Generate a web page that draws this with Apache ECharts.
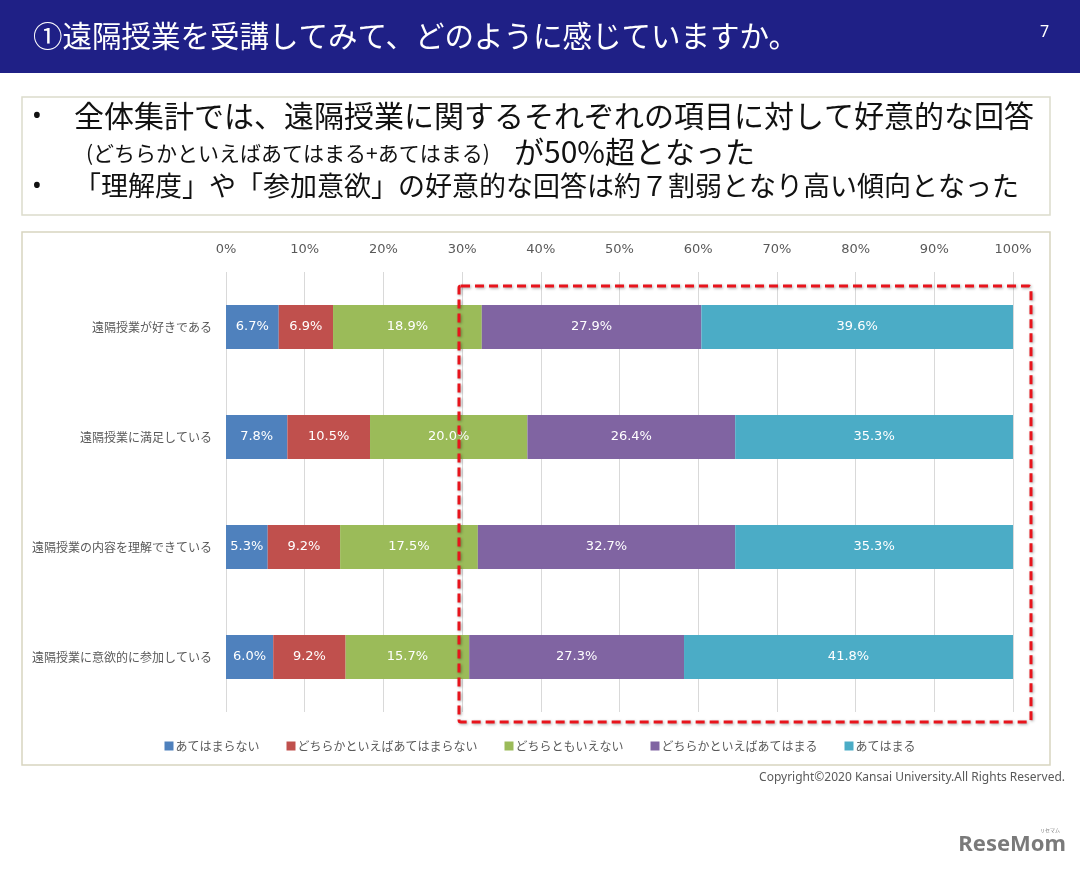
<!DOCTYPE html>
<html>
<head>
<meta charset="utf-8">
<script src="https://cdn.jsdelivr.net/npm/echarts/dist/echarts.min.js"></script>
<style>
  html, body { margin: 0; padding: 0; background: #fff; }
  #main { width: 1080px; height: 872px; }
</style>
</head>
<body>
<div id="main"></div>
<script>
// 項目（上から順）
var categories = ['遠隔授業が好きである', '遠隔授業に満足している', '遠隔授業の内容を理解できている', '遠隔授業に意欲的に参加している'];
// 回答ごとの割合(%)
var seriesNames = ['あてはまらない', 'どちらかといえばあてはまらない', 'どちらともいえない', 'どちらかといえばあてはまる', 'あてはまる'];
var notApply = [6.7, 7.8, 5.3, 6.0];
var ratherNotApply = [6.9, 10.5, 9.2, 9.2];
var neither = [18.9, 20.0, 17.5, 15.7];
var ratherApply = [27.9, 26.4, 32.7, 27.3];
var apply = [39.6, 35.3, 35.3, 41.8];
var tickLabels = ['0%', '10%', '20%', '30%', '40%', '50%', '60%', '70%', '80%', '90%', '100%'];

var colors = ['#4f81bd', '#c0504d', '#9bbb59', '#8064a2', '#4bacc6'];
var seriesData = [notApply, ratherNotApply, neither, ratherApply, apply];
var jp = '"Noto Sans CJK JP", "Noto Sans", sans-serif';

var chart = echarts.init(document.getElementById('main'));

var option = {
  color: colors,
  textStyle: { fontFamily: jp },
  //背景・見出し・注記
  graphic: [
    { type: 'rect', shape: { x: 0, y: 0, width: 1080, height: 73 }, style: { fill: '#1f2086' }, z: -10 },
    { type: 'text', left: 33, top: 21, style: { text: '①遠隔授業を受講してみて、どのように感じていますか。', fill: '#fff', font: '29.5px ' + jp } },
    { type: 'text', left: 1040, top: 24, style: { text: '7', fill: '#fff', font: '16px "Noto Sans", sans-serif' } },
    { type: 'rect', shape: { x: 22, y: 97, width: 1028, height: 118 }, style: { fill: '#fff', stroke: '#dcdccc', lineWidth: 1.5 }, z: -10 },
    { type: 'text', left: 32, top: 104, style: { text: '•', fill: '#111', font: '26px "Noto Sans", sans-serif' } },
    { type: 'text', left: 74, top: 101, style: { text: '全体集計では、遠隔授業に関するそれぞれの項目に対して好意的な回答', fill: '#111', font: '30px ' + jp } },
    { type: 'text', left: 86, top: 143, style: { text: '(どちらかといえばあてはまる+あてはまる)', fill: '#111', font: '21px ' + jp } },
    { type: 'text', left: 514, top: 137, style: { text: 'が50%超となった', fill: '#111', font: '30px ' + jp } },
    { type: 'text', left: 32, top: 174, style: { text: '•', fill: '#111', font: '26px "Noto Sans", sans-serif' } },
    { type: 'text', left: 74, top: 172, style: { text: '「理解度」や「参加意欲」の好意的な回答は約７割弱となり高い傾向となった', fill: '#111', font: '27px ' + jp } },
    { type: 'rect', shape: { x: 22, y: 232, width: 1028, height: 533 }, style: { fill: '#fff', stroke: '#d8d5c0', lineWidth: 1.5 }, z: -10 },
    // 強調の破線枠
    { type: 'rect', shape: { x: 459, y: 286, width: 572, height: 436, r: 2 },
      style: { fill: 'none', stroke: '#e8141c', lineWidth: 3, lineDash: [9, 5], shadowBlur: 3, shadowColor: 'rgba(0,0,0,0.35)', shadowOffsetX: 1, shadowOffsetY: 1 }, z: 100 },
    { type: 'text', right: 15, top: 772, style: { text: 'Copyright©2020 Kansai University.All Rights Reserved.', fill: '#595959', font: '12px "Noto Sans", sans-serif' } },
    { type: 'text', right: 14, top: 834, style: { text: 'ReseMom', fill: '#7a7a7a', font: 'bold 22px "Noto Sans", sans-serif' } },
    { type: 'text', right: 20, top: 828, style: { text: 'リセマム', fill: '#7a7a7a', font: '5px ' + jp } }
  ],
  legend: {
    data: seriesNames,
    left: 'center',
    top: 735,
    icon: 'rect',
    itemWidth: 9,
    itemHeight: 9,
    itemGap: 27,
    textStyle: { fontSize: 12, color: '#595959', fontFamily: jp, padding: [0, 0, 0, -3] }
  },
  grid: { left: 226, right: 67, top: 272, bottom: 160 },
  xAxis: {
    type: 'value',
    position: 'top',
    min: 0,
    max: 100,
    interval: 10,
    axisLine: { show: false },
    axisTick: { show: false },
    axisLabel: {
      margin: 16,
      fontSize: 13,
      color: '#595959',
      fontFamily: 'Verdana, "DejaVu Sans", sans-serif',
      formatter: function (v) { return tickLabels[Math.round(v / 10)]; }
    },
    splitLine: { lineStyle: { color: '#d9d9d9', width: 1 } }
  },
  yAxis: {
    type: 'category',
    data: categories,
    inverse: true,
    axisLine: { show: false },
    axisTick: { show: false },
    axisLabel: { fontSize: 12, color: '#595959', margin: 14 }
  },
  series: seriesNames.map(function (name, i) {
    return {
      name: name,
      type: 'bar',
      stack: 'total',
      barWidth: '40%',
      data: seriesData[i],
      label: {
        show: true,
        position: 'inside',
        color: '#fff',
        fontSize: 13,
        fontFamily: 'Verdana, "DejaVu Sans", sans-serif',
        formatter: function (p) { return p.value.toFixed(1) + '%'; }
      }
    };
  })
};

chart.setOption(option);
</script>
</body>
</html>
